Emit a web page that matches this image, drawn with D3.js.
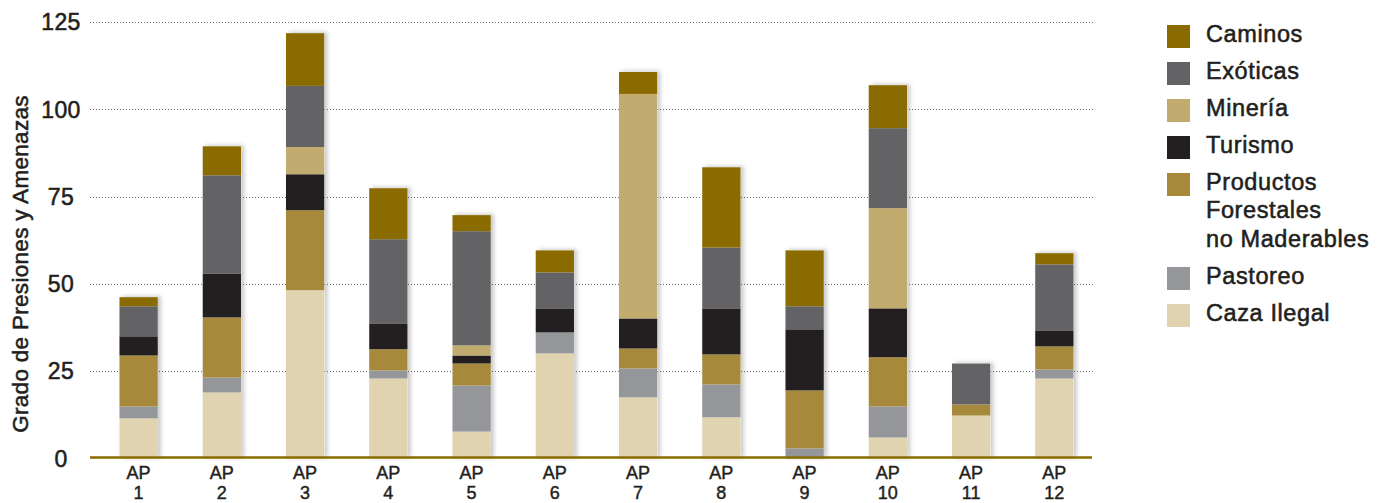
<!DOCTYPE html>
<html>
<head>
<meta charset="utf-8">
<script src="https://cdn.jsdelivr.net/npm/d3@7"></script>
<style>
  html, body { margin: 0; padding: 0; background: #fff; }
  svg { display: block; }
  text { font-family: "Liberation Sans", Arial, Helvetica, sans-serif; fill: #231f20; }
</style>
</head>
<body>
<svg id="chart" width="1389" height="503"></svg>
<script>
// ---- data ----
const categories = ["1","2","3","4","5","6","7","8","9","10","11","12"];
const seriesNames = ["Caza Ilegal","Pastoreo","Productos Forestales no Maderables","Turismo","Minería","Exóticas","Caminos"];
const cazaIlegal = [11.5, 18.9, 48.2, 22.9, 7.7, 30.1, 17.5, 11.8, 0, 6.0, 12.3, 22.9];
const pastoreo   = [3.4, 4.3, 0, 2.3, 13.2, 6.0, 8.3, 9.4, 2.9, 8.9, 0, 2.6];
const productosForestales = [14.6, 17.2, 22.9, 6.1, 6.3, 0, 5.7, 8.6, 16.6, 14.1, 3.2, 6.6];
const turismo    = [5.5, 12.6, 10.3, 7.4, 2.3, 6.9, 8.6, 13.2, 17.5, 14.0, 0, 4.6];
const mineria    = [0, 0, 7.8, 0, 2.9, 0, 64.3, 0, 0, 28.7, 0, 0];
const exoticas   = [8.6, 28.1, 17.5, 24.1, 32.7, 10.3, 0, 17.4, 6.6, 22.9, 11.7, 18.9];
const caminos    = [2.6, 8.3, 15.1, 14.6, 4.6, 6.3, 6.3, 23.0, 16.0, 12.3, 0, 3.2];
const yTicks = [0, 25, 50, 75, 100, 125];
const yLabel = "Grado de Presiones y Amenazas";
const legendItems = [
  {name: "Caminos", lines: ["Caminos"]},
  {name: "Exóticas", lines: ["Exóticas"]},
  {name: "Minería", lines: ["Minería"]},
  {name: "Turismo", lines: ["Turismo"]},
  {name: "Productos Forestales no Maderables", lines: ["Productos", "Forestales", "no Maderables"]},
  {name: "Pastoreo", lines: ["Pastoreo"]},
  {name: "Caza Ilegal", lines: ["Caza Ilegal"]}
];

// ---- styles ----
const colors = {
  "Caza Ilegal": "#dfd3b0",
  "Pastoreo": "#959699",
  "Productos Forestales no Maderables": "#a6893a",
  "Turismo": "#231f20",
  "Minería": "#c2ab6e",
  "Exóticas": "#636365",
  "Caminos": "#8a6b00"
};

const seriesValues = [cazaIlegal, pastoreo, productosForestales, turismo, mineria, exoticas, caminos];
const table = categories.map((c, i) => {
  const row = {cat: c};
  seriesNames.forEach((s, k) => row[s] = seriesValues[k][i]);
  return row;
});
const stacked = d3.stack().keys(seriesNames)(table);

const svg = d3.select("#chart");
const x = d3.scaleBand().domain(categories).range([97, 1096]).paddingInner(0.54).paddingOuter(0.27);
const y = d3.scaleLinear().domain([0, 125]).range([458.5, 22]);

const textStroke = 0.55;

// gridlines
svg.append("g").selectAll("line").data(yTicks.filter(d => d > 0)).join("line")
  .attr("x1", 90).attr("x2", 1093)
  .attr("y1", d => Math.round(y(d)) + 0.5).attr("y2", d => Math.round(y(d)) + 0.5)
  .attr("stroke", "#6d6d6d").attr("stroke-width", 1).attr("stroke-dasharray", "1,2");

// y tick labels (centered)
svg.append("g").selectAll("text").data(yTicks).join("text")
  .attr("x", 61).attr("y", d => y(d))
  .attr("dy", "0.36em")
  .attr("text-anchor", "middle")
  .style("font-size", "23px")
  .style("letter-spacing", "0.4px")
  .style("stroke", "#231f20").style("stroke-width", textStroke)
  .text(d => d);

// y label
svg.append("text")
  .attr("transform", "translate(28,264) rotate(-90)")
  .attr("text-anchor", "middle")
  .style("font-size", "22.5px")
  .style("letter-spacing", "0.3px")
  .style("stroke", "#231f20").style("stroke-width", textStroke)
  .text(yLabel);

// drop shadow
const defs = svg.append("defs");
const f = defs.append("filter").attr("id", "shadow").attr("x", "-30%").attr("y", "-10%").attr("width", "160%").attr("height", "120%");
f.append("feDropShadow").attr("dx", 3).attr("dy", -1).attr("stdDeviation", 2.2)
  .attr("flood-color", "#000").attr("flood-opacity", 0.22);

// shadow rects per bar (total)
const totals = table.map(r => seriesNames.reduce((a, s) => a + r[s], 0));
svg.append("g").attr("filter", "url(#shadow)").selectAll("rect").data(categories).join("rect")
  .attr("x", d => x(d)).attr("width", x.bandwidth())
  .attr("y", (d, i) => y(totals[i])).attr("height", (d, i) => y(0) - y(totals[i]))
  .attr("fill", "#fff");

// bars
svg.append("g").selectAll("g").data(stacked).join("g")
  .attr("fill", d => colors[d.key])
  .selectAll("rect").data(d => d).join("rect")
  .attr("x", d => x(d.data.cat))
  .attr("width", x.bandwidth())
  .attr("y", d => y(d[1]))
  .attr("height", d => Math.max(0, y(d[0]) - y(d[1])));

// x axis line
svg.append("line").attr("x1", 90).attr("x2", 1092).attr("y1", 457.5).attr("y2", 457.5)
  .attr("stroke", "#8a6b00").attr("stroke-width", 2.4);

// x labels
const xl = svg.append("g").selectAll("text").data(categories).join("text")
  .attr("text-anchor", "middle")
  .style("font-size", "18px")
  .style("stroke", "#231f20").style("stroke-width", 0.45);
xl.append("tspan").attr("x", d => x(d) + x.bandwidth() / 2).attr("y", 479).text("AP");
xl.append("tspan").attr("x", d => x(d) + x.bandwidth() / 2).attr("y", 499).text(d => d);

// legend
const legendTops = [25, 62, 99, 136, 173, 267, 304];
const lg = svg.append("g").selectAll("g").data(legendItems).join("g")
  .attr("transform", (d, i) => `translate(1167,${legendTops[i]})`);
lg.append("rect").attr("width", 23).attr("height", 23).attr("fill", d => colors[d.name]);
lg.each(function(d) {
  const t = d3.select(this).append("text")
    .style("font-size", "23.5px")
    .style("letter-spacing", "0.6px")
    .style("stroke", "#231f20").style("stroke-width", textStroke);
  d.lines.forEach((ln, j) => {
    t.append("tspan").attr("x", 39).attr("y", 17 + j * 28.3).text(ln);
  });
});
</script>
</body>
</html>
